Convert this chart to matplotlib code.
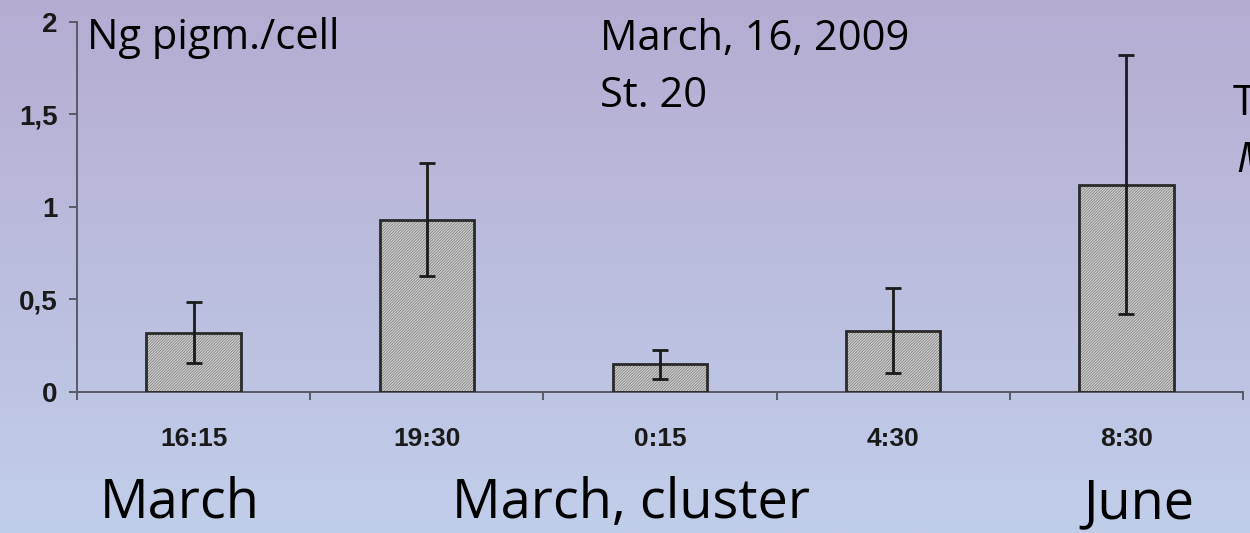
import numpy as np
import matplotlib
matplotlib.use('Agg')
from matplotlib import pyplot as plt
from matplotlib.ticker import FuncFormatter

# bar data
times = ['16:15', '19:30', '0:15', '4:30', '8:30']
pigment = [0.32, 0.93, 0.15, 0.33, 1.12]
pigment_err = [0.165, 0.305, 0.078, 0.23, 0.70]
yticks = [0, 0.5, 1, 1.5, 2]

W, H = 1250, 533
plt.rcParams['hatch.linewidth'] = 0.5

fig = plt.figure(figsize=(W / 100, H / 100), dpi=100)

# gradient background, purple on top, light blue at the bottom
bg = fig.add_axes([0, 0, 1, 1], zorder=0)
top = np.array([181, 172, 210]) / 255
bottom = np.array([193, 206, 234]) / 255
t = np.linspace(0, 1, 256)[:, None]
grad = top * (1 - t) + bottom * t
bg.imshow(grad[:, None, :], aspect='auto', extent=[0, 1, 0, 1])
bg.axis('off')

ax = fig.add_axes([77 / W, 1 - 392 / H, (1243 - 77) / W, (392 - 21.5) / H], zorder=1)
ax.patch.set_alpha(0)

x = np.arange(len(times))
ax.bar(x, pigment, width=0.405, color='#cfcfcf', edgecolor='#777777',
       hatch='////////////', linewidth=0, zorder=2)
ax.bar(x, pigment, width=0.405, fill=False, edgecolor='#2a2a2a',
       linewidth=2, zorder=3)
ax.errorbar(x, pigment, yerr=pigment_err, fmt='none', ecolor='#1a1a1a',
            elinewidth=2, capsize=6, capthick=2, zorder=4)

ax.set_xlim(-0.5, len(times) - 0.5)
ax.set_ylim(0, 2)

for side in ['top', 'right']:
    ax.spines[side].set_visible(False)
for side in ['left', 'bottom']:
    ax.spines[side].set_color('#5a5a66')
    ax.spines[side].set_linewidth(1.4)

# category boundaries get tick marks, centers get the labels
ax.set_xticks(np.arange(len(times) + 1) - 0.5)
ax.set_xticklabels([])
ax.set_xticks(x, minor=True)
ax.set_xticklabels(times, minor=True, fontsize=19, fontweight='bold',
                   family='Liberation Sans', color='#1a1a1a')
ax.tick_params(axis='x', which='major', direction='out', length=6,
               width=1.4, color='#5a5a66')
ax.tick_params(axis='x', which='minor', length=0, pad=25)

ax.set_yticks(yticks)
ax.yaxis.set_major_formatter(FuncFormatter(lambda v, p: ('%g' % v).replace('.', ',')))
ax.tick_params(axis='y', direction='out', length=6, width=1.4, color='#5a5a66',
               pad=8, labelsize=20, labelcolor='#1a1a1a')
for lab in ax.get_yticklabels():
    lab.set_fontweight('bold')
    lab.set_family('Liberation Sans')


def put(px, py, s, size, **kw):
    fig.text(px / W, 1 - py / H, s, fontsize=size, family='Open Sans',
             va='baseline', ha='left', color='black', zorder=5, **kw)


put(87, 49, 'Ng pigm./cell', 30)
put(600, 50, 'March, 16, 2009', 30)
put(600, 107, 'St. 20', 30)
put(1233, 115, 'T', 30)
put(1236, 172, 'M', 30, style='italic')
put(100, 518, 'March', 39)
put(452, 518, 'March, cluster', 39)
put(1083, 518, 'June', 39)

fig.savefig('out.png', dpi=100)
